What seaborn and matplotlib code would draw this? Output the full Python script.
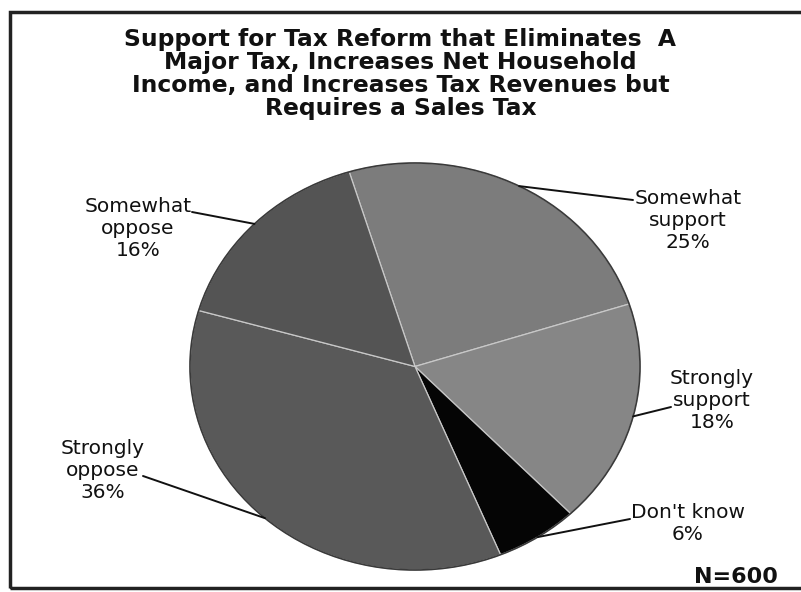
import numpy as np
import seaborn as sns
import matplotlib.pyplot as plt
from matplotlib.patches import Rectangle, Circle

sns.set_theme(style="white")
plt.rcParams['font.family'] = ['DejaVu Sans']

# data, clockwise from the top
labels = ["Somewhat\nsupport", "Strongly\nsupport", "Don't know", "Strongly\noppose", "Somewhat\noppose"]
values = [25, 18, 6, 36, 16]
colors = ["#7c7c7c", "#868686", "#050505", "#595959", "#545454"]
title = ("Support for Tax Reform that Eliminates  A\nMajor Tax, Increases Net Household\n"
         "Income, and Increases Tax Revenues but\nRequires a Sales Tax")

W, H = 801, 592
fig = plt.figure(figsize=(W / 100, H / 100), dpi=100)

# pie is slightly squashed in the reference, so the axes box sets the ellipse
ax = fig.add_axes([190 / W, 22 / H, 450 / W, 407 / H])
wedges, _ = ax.pie(values, colors=colors, startangle=107, counterclock=False,
                   wedgeprops=dict(edgecolor="#c8c8c8", linewidth=0.9, clip_on=False))
ax.set_aspect("auto")
ax.set_xlim(-1, 1)
ax.set_ylim(-1, 1)
ax.add_patch(Circle((0, 0), 1, fill=False, ec="#3a3a3a", lw=1.2, clip_on=False))
ax.axis("off")

# label text centres and leader attach points (figure pixels, from top)
text_pos = [(688, 220), (712, 401), (688, 524), (103, 470), (138, 229)]
attach = [(633, 200), (671, 407), (630, 519), (143, 476), (192, 212)]

for w, lab, v, tp, ap in zip(wedges, labels, values, text_pos, attach):
    mid = np.deg2rad((w.theta1 + w.theta2) / 2)
    fig.text(tp[0] / W, 1 - tp[1] / H, f"{lab}\n{v}%", ha="center", va="center",
             fontsize=14.5, color="#111111", linespacing=1.2)
    ax.annotate("", xy=(np.cos(mid), np.sin(mid)), xycoords="data",
                xytext=(ap[0], H - ap[1]), textcoords="figure pixels",
                arrowprops=dict(arrowstyle="-", color="#111111", lw=1.4,
                                shrinkA=0, shrinkB=0))

fig.text(0.5, 1 - 28 / H, title, ha="center", va="top", fontsize=16.8,
         fontweight="bold", color="#111111", linespacing=1.0)
fig.text(778 / W, 1 - 583 / H, "N=600", ha="right", va="baseline", fontsize=16,
         fontweight="bold", color="#111111")

# frame round the whole chart
fig.patches.append(Rectangle((10 / W, 4 / H), 1.0, 1 - 16 / H, transform=fig.transFigure,
                             fill=False, ec="#222222", lw=2.5))

fig.savefig("out.png", dpi=100)
